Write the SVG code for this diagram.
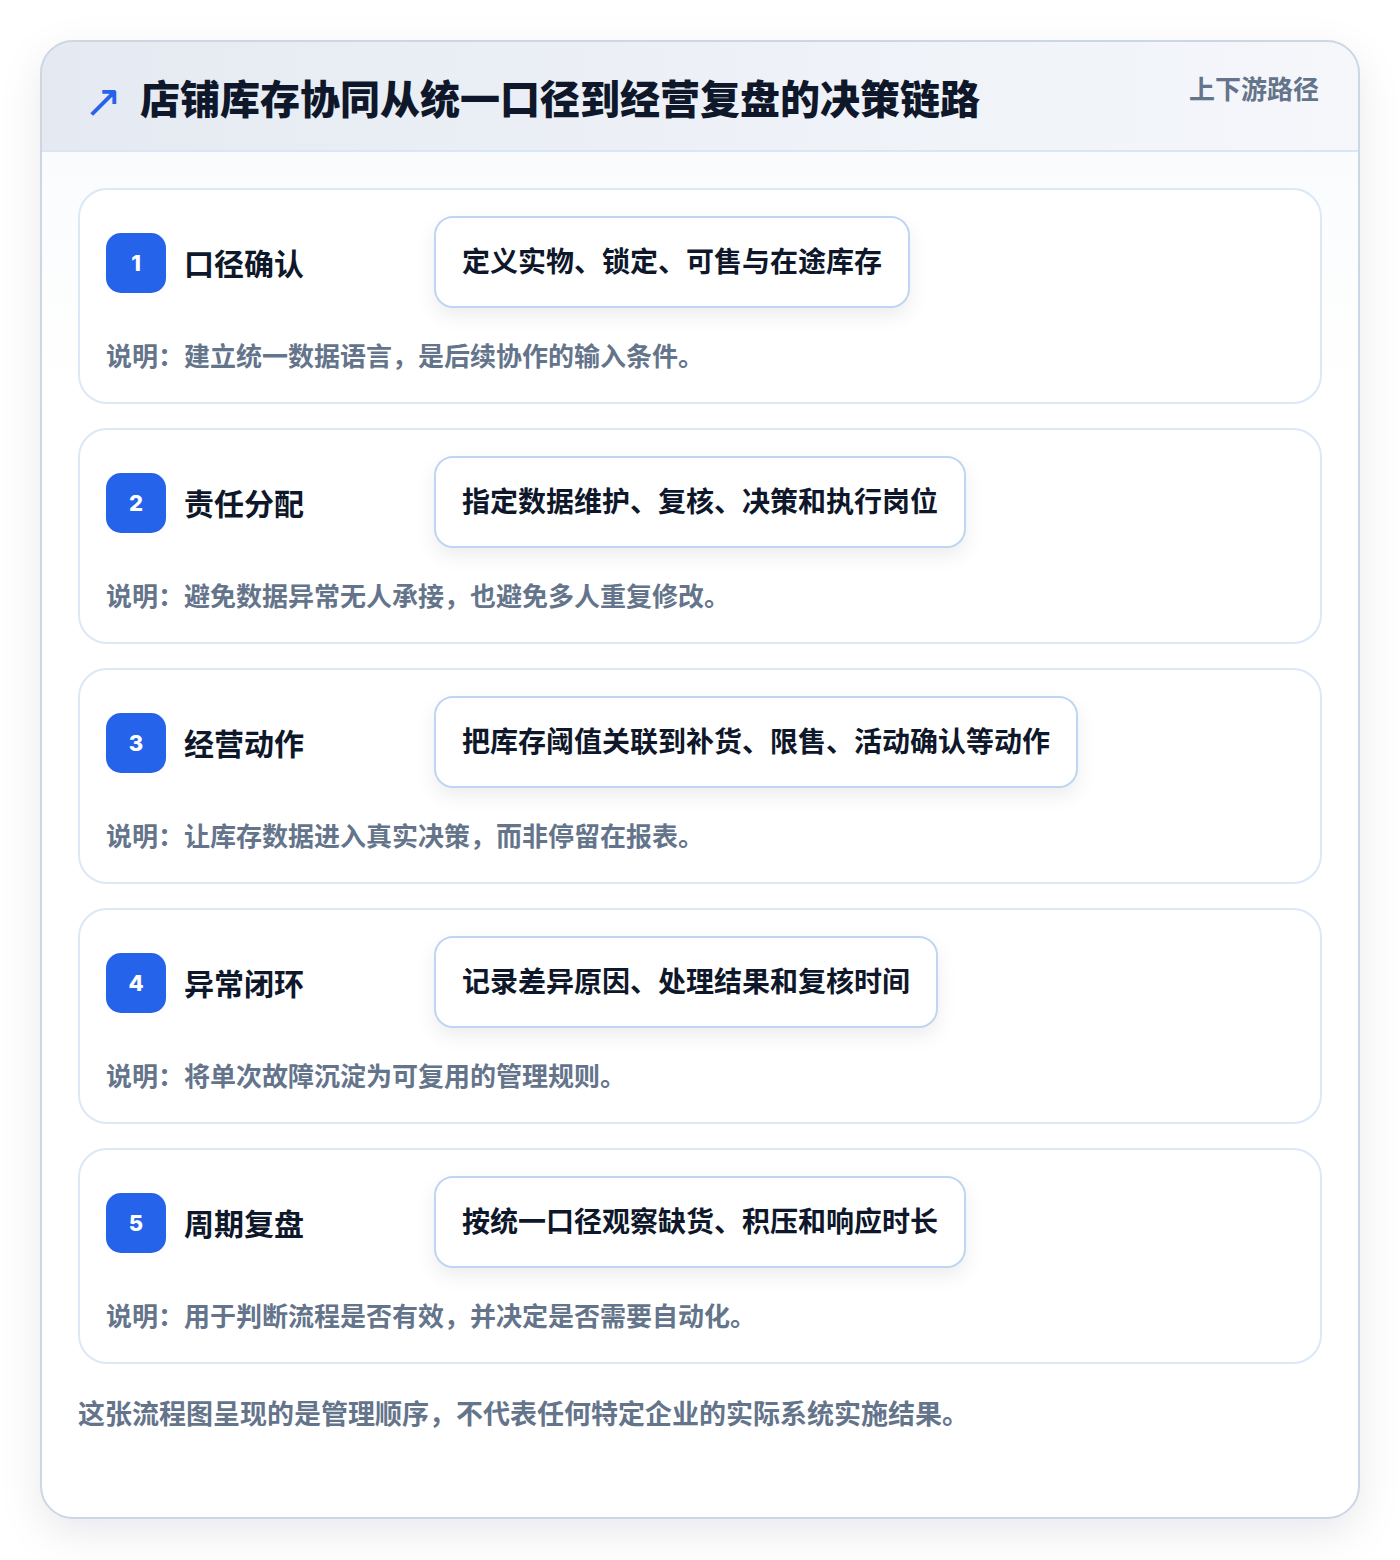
<svg xmlns="http://www.w3.org/2000/svg" width="1400" height="1560" viewBox="0 0 1400 1560">
  <defs>
    <linearGradient id="hdr" x1="0" y1="0" x2="1" y2="0">
      <stop offset="0" stop-color="#e5eaf2"/>
      <stop offset="1" stop-color="#f5f7fb"/>
    </linearGradient>
    <linearGradient id="body" x1="0" y1="0" x2="0" y2="1">
      <stop offset="0" stop-color="#f8fafc"/>
      <stop offset="0.25" stop-color="#ffffff"/>
      <stop offset="1" stop-color="#ffffff"/>
    </linearGradient>
    <filter id="cardShadow" x="-10%" y="-10%" width="120%" height="120%">
      <feDropShadow dx="0" dy="14" stdDeviation="20" flood-color="#0f172a" flood-opacity="0.09"/>
    </filter>
    <filter id="boxShadow" x="-10%" y="-30%" width="120%" height="170%">
      <feDropShadow dx="0" dy="8" stdDeviation="9" flood-color="#0f172a" flood-opacity="0.07"/>
    </filter>
    <clipPath id="cardClip">
      <rect x="41" y="41" width="1318" height="1477" rx="32"/>
    </clipPath>
  </defs>
  <style>
    .cjk { font-family: "Noto Sans CJK SC", "Noto Sans", sans-serif; font-weight: 700; }
    .title { font-size: 40px; fill: #0f172a; font-weight: 800; }
    .tag { font-size: 26px; fill: #64748b; }
    .step { fill: #ffffff; stroke: #dce8f6; stroke-width: 2; }
    .badge { fill: #2563eb; }
    .num { font-family: "Inter", "Noto Sans", sans-serif; font-weight: 800; font-size: 22px; fill: #ffffff; }
    .label { font-size: 30px; fill: #0f172a; }
    .box { fill: #ffffff; stroke: #bfd5f1; stroke-width: 2; }
    .boxtext { font-size: 28px; fill: #0f172a; }
    .desc { font-size: 26px; fill: #64748b; }
    .foot { font-size: 27px; fill: #64748b; }
  </style>
  <rect x="0" y="0" width="1400" height="1560" fill="#ffffff"/>
  <g id="card">
    <rect x="41" y="41" width="1318" height="1477" rx="32" fill="url(#body)" filter="url(#cardShadow)"/>
    <g clip-path="url(#cardClip)">
      <rect x="41" y="41" width="1318" height="110" fill="url(#hdr)"/>
      <line x1="41" y1="151" x2="1359" y2="151" stroke="#dbe6f4" stroke-width="2"/>
    </g>
    <rect x="41" y="41" width="1318" height="1477" rx="32" fill="none" stroke="#ccd6e4" stroke-width="2"/>
  </g>
  <g id="header">
    <text x="84" y="117" font-family="DejaVu Sans, sans-serif" font-size="46" fill="#2563eb">↗</text>
    <text class="cjk title" x="140" y="114">店铺库存协同从统一口径到经营复盘的决策链路</text>
    <text class="cjk tag" x="1319" y="99" text-anchor="end">上下游路径</text>
  </g>
  <g id="connectors"></g>
  <g id="step1">
    <rect class="step" x="79" y="189" width="1242" height="214" rx="28"/>
    <rect class="badge" x="106" y="233" width="60" height="60" rx="15"/>
    <text class="num" x="136" y="271" text-anchor="middle">1</text>
    <text class="cjk label" x="184" y="275">口径确认</text>
    <rect class="box" x="435" y="217" width="474" height="90" rx="18" filter="url(#boxShadow)"/>
    <text class="cjk boxtext" x="462" y="272">定义实物、锁定、可售与在途库存</text>
    <text class="cjk desc" x="106" y="366">说明：建立统一数据语言，是后续协作的输入条件。</text>
  </g>
  <g id="step2">
    <rect class="step" x="79" y="429" width="1242" height="214" rx="28"/>
    <rect class="badge" x="106" y="473" width="60" height="60" rx="15"/>
    <text class="num" x="136" y="511" text-anchor="middle">2</text>
    <text class="cjk label" x="184" y="515">责任分配</text>
    <rect class="box" x="435" y="457" width="530" height="90" rx="18" filter="url(#boxShadow)"/>
    <text class="cjk boxtext" x="462" y="512">指定数据维护、复核、决策和执行岗位</text>
    <text class="cjk desc" x="106" y="606">说明：避免数据异常无人承接，也避免多人重复修改。</text>
  </g>
  <g id="step3">
    <rect class="step" x="79" y="669" width="1242" height="214" rx="28"/>
    <rect class="badge" x="106" y="713" width="60" height="60" rx="15"/>
    <text class="num" x="136" y="751" text-anchor="middle">3</text>
    <text class="cjk label" x="184" y="755">经营动作</text>
    <rect class="box" x="435" y="697" width="642" height="90" rx="18" filter="url(#boxShadow)"/>
    <text class="cjk boxtext" x="462" y="752">把库存阈值关联到补货、限售、活动确认等动作</text>
    <text class="cjk desc" x="106" y="846">说明：让库存数据进入真实决策，而非停留在报表。</text>
  </g>
  <g id="step4">
    <rect class="step" x="79" y="909" width="1242" height="214" rx="28"/>
    <rect class="badge" x="106" y="953" width="60" height="60" rx="15"/>
    <text class="num" x="136" y="991" text-anchor="middle">4</text>
    <text class="cjk label" x="184" y="995">异常闭环</text>
    <rect class="box" x="435" y="937" width="502" height="90" rx="18" filter="url(#boxShadow)"/>
    <text class="cjk boxtext" x="462" y="992">记录差异原因、处理结果和复核时间</text>
    <text class="cjk desc" x="106" y="1086">说明：将单次故障沉淀为可复用的管理规则。</text>
  </g>
  <g id="step5">
    <rect class="step" x="79" y="1149" width="1242" height="214" rx="28"/>
    <rect class="badge" x="106" y="1193" width="60" height="60" rx="15"/>
    <text class="num" x="136" y="1231" text-anchor="middle">5</text>
    <text class="cjk label" x="184" y="1235">周期复盘</text>
    <rect class="box" x="435" y="1177" width="530" height="90" rx="18" filter="url(#boxShadow)"/>
    <text class="cjk boxtext" x="462" y="1232">按统一口径观察缺货、积压和响应时长</text>
    <text class="cjk desc" x="106" y="1326">说明：用于判断流程是否有效，并决定是否需要自动化。</text>
  </g>
  <g id="footer">
    <text class="cjk foot" x="78" y="1424">这张流程图呈现的是管理顺序，不代表任何特定企业的实际系统实施结果。</text>
  </g>
</svg>
